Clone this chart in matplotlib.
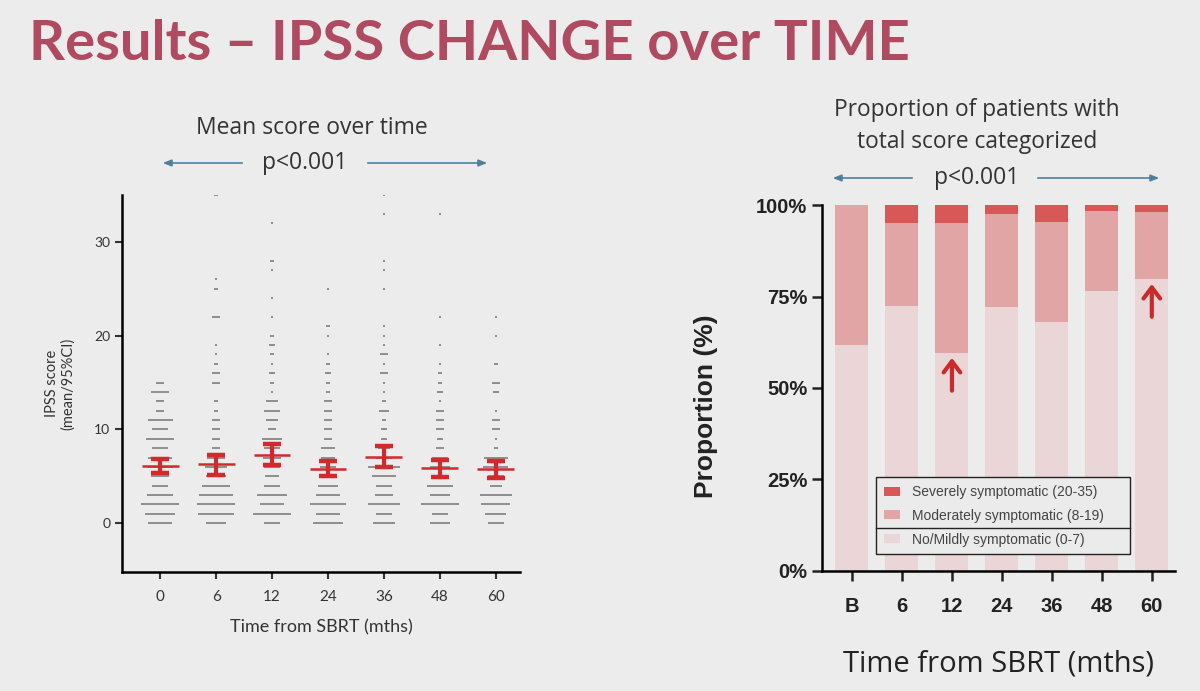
import numpy as np
import matplotlib
matplotlib.use("Agg")
import matplotlib.pyplot as plt

# ---- data ----
groups = ["0", "6", "12", "24", "36", "48", "60"]

# number of patients at each IPSS score (index = score)
counts = {
    "0":  [17, 22, 28, 19, 11, 13, 18, 17, 12, 20, 12, 18, 6, 6, 13, 5],
    "6":  [14, 26, 28, 25, 20, 14, 16, 13, 5, 5, 6, 6, 3, 3, 0, 6, 5, 3, 1, 1, 0, 0, 5, 0, 0, 2, 1,
           0, 0, 0, 0, 0, 0, 0, 0, 2],
    "12": [12, 28, 18, 22, 11, 10, 12, 13, 12, 14, 6, 9, 11, 9, 1, 3, 4, 1, 3, 4, 3, 0, 1, 0, 1, 0, 0,
           1, 2, 0, 0, 0, 1],
    "24": [22, 17, 27, 17, 15, 13, 12, 10, 10, 6, 6, 5, 5, 6, 3, 3, 4, 3, 1, 0, 1, 3, 0, 0, 0, 1],
    "36": [16, 12, 24, 13, 12, 17, 24, 12, 8, 4, 4, 3, 7, 2, 1, 1, 5, 1, 6, 1, 1, 1, 0, 0, 0, 1, 0,
           1, 1, 0, 0, 0, 0, 1, 0, 1],
    "48": [15, 11, 28, 15, 19, 12, 14, 12, 6, 4, 6, 6, 5, 1, 4, 3, 3, 1, 0, 1, 0, 0, 1, 0, 0, 0, 0,
           0, 0, 0, 0, 0, 0, 1],
    "60": [12, 15, 21, 23, 8, 12, 18, 17, 3, 1, 5, 5, 1, 0, 4, 6, 0, 3, 0, 0, 1, 0, 1],
}
mean_score = [6.1, 6.3, 7.3, 5.8, 7.1, 5.9, 5.8]
ci_low = [5.4, 5.1, 6.2, 5.0, 6.0, 4.9, 4.8]
ci_high = [6.9, 7.3, 8.4, 6.6, 8.2, 6.7, 6.6]

bar_labels = ["B", "6", "12", "24", "36", "48", "60"]
mild = [61.7, 72.5, 59.5, 72.0, 68.0, 76.5, 79.7]
moderate = [38.3, 22.7, 35.5, 25.5, 27.3, 22.0, 18.5]
severe = [0.0, 4.8, 5.0, 2.5, 4.7, 1.5, 1.8]
arrow_bars = [2, 6]

# ---- style ----
bg = "#ececec"
txt = "#333333"
title_col = "#b04a60"
dot_col = "#909090"
err_col = "#d22a2a"
p_col = "#4f7f9e"
c_mild, c_mod, c_sev = "#ead6d6", "#e2a5a5", "#d85757"

fig = plt.figure(figsize=(12, 6.91), dpi=100, facecolor=bg)

fig.text(0.024, 0.937, "Results \u2013 IPSS CHANGE over TIME", color=title_col,
         fontsize=40.5, fontweight="bold", family="Lato", va="center", ha="left")

# ---- left: dot plot with mean / 95% CI ----
ax1 = fig.add_axes([0.1017, 0.1722, 0.3316, 0.5456], facecolor=bg)
dx = 0.024
for gi, g in enumerate(groups):
    for score, n in enumerate(counts[g]):
        if n == 0:
            continue
        xs = gi + (np.arange(n) - (n - 1) / 2) * dx
        ax1.scatter(xs, np.full(n, score), s=1.6, marker="s", color=dot_col,
                    linewidths=0, zorder=2)

xg = np.arange(len(groups))
ax1.hlines(mean_score, xg - 0.33, xg + 0.33, color=err_col, lw=1.8, zorder=4)
ax1.vlines(xg, ci_low, ci_high, color=err_col, lw=3, zorder=4)
ax1.hlines(ci_low, xg - 0.16, xg + 0.16, color=err_col, lw=3.2, zorder=4)
ax1.hlines(ci_high, xg - 0.16, xg + 0.16, color=err_col, lw=3.2, zorder=4)

ax1.set_xlim(-0.68, 6.43)
ax1.set_ylim(-5.2, 35)
ax1.set_yticks([0, 10, 20, 30])
ax1.set_xticks(xg)
ax1.set_xticklabels(groups)
for s in ["top", "right"]:
    ax1.spines[s].set_visible(False)
for s in ["left", "bottom"]:
    ax1.spines[s].set_linewidth(1.8)
ax1.tick_params(axis="y", labelsize=10, colors=txt, width=1.5, length=5)
ax1.tick_params(axis="x", labelsize=11, colors=txt, width=1.5, length=5, pad=8)
for lab in ax1.get_xticklabels() + ax1.get_yticklabels():
    lab.set_family("Lato")
ax1.set_ylabel("IPSS score\n(mean/95%CI)", fontsize=10.5, color=txt, family="Lato",
               labelpad=14, linespacing=1.1)
ax1.set_xlabel("Time from SBRT (mths)", fontsize=13, color=txt, family="Lato", labelpad=11)

fig.text(0.26, 0.815, "Mean score over time", fontsize=16.5, color=txt, family="Open Sans",
         ha="center", va="center")

# ---- right: stacked proportions ----
ax2 = fig.add_axes([0.685, 0.1737, 0.294, 0.5296], facecolor=bg)
xb = np.arange(len(bar_labels))
w = 0.66
ax2.bar(xb, mild, w, color=c_mild, label="No/Mildly symptomatic (0-7)", zorder=2)
ax2.bar(xb, moderate, w, bottom=mild, color=c_mod, label="Moderately symptomatic (8-19)", zorder=2)
ax2.bar(xb, severe, w, bottom=np.array(mild) + np.array(moderate), color=c_sev,
        label="Severely symptomatic (20-35)", zorder=2)

for i in arrow_bars:
    ax2.annotate("", xy=(i, mild[i] - 0.5), xytext=(i, mild[i] - 11),
                 arrowprops=dict(arrowstyle="->,head_length=0.8,head_width=0.6",
                                 lw=3, color="#cc2a2a"), zorder=5)

ax2.set_xlim(-0.6, 6.46)
ax2.set_ylim(0, 100)
ax2.set_yticks([0, 25, 50, 75, 100])
ax2.set_yticklabels(["0%", "25%", "50%", "75%", "100%"])
ax2.set_xticks(xb)
ax2.set_xticklabels(bar_labels)
for s in ["top", "right"]:
    ax2.spines[s].set_visible(False)
for s in ["left", "bottom"]:
    ax2.spines[s].set_linewidth(1.8)
ax2.tick_params(axis="both", width=1.8, length=7, colors="#222222")
ax2.tick_params(axis="y", labelsize=14.5)
ax2.tick_params(axis="x", labelsize=14.5, pad=12)
for lab in ax2.get_xticklabels() + ax2.get_yticklabels():
    lab.set_family("Liberation Sans")
    lab.set_fontweight("bold")
ax2.set_ylabel("Proportion (%)", fontsize=19, fontweight="bold", family="Liberation Sans",
               color="#222222")
ax2.yaxis.set_label_coords(-0.295, 0.45)
ax2.set_xlabel("Time from SBRT (mths)", fontsize=21, family="Open Sans",
               color="#222222", labelpad=24)

h, l = ax2.get_legend_handles_labels()
leg = ax2.legend(h[::-1], l[::-1], loc="lower left", bbox_to_anchor=(0.153, 0.046, 0.72, 0.2),
                 mode="expand", borderaxespad=0, frameon=True, fancybox=False,
                 handlelength=1.2, handleheight=0.6, handletextpad=0.85, borderpad=0.55,
                 labelspacing=0.7, prop={"family": "Liberation Sans", "size": 10})
leg.get_frame().set_edgecolor("#222222")
leg.get_frame().set_facecolor("#ebebeb")
leg.get_frame().set_alpha(1)
leg.get_frame().set_linewidth(1)
for t in leg.get_texts():
    t.set_color("#444444")
leg.set_zorder(6)

fig.text(0.814, 0.818, "Proportion of patients with\ntotal score categorized", fontsize=16.4,
         color=txt, family="Open Sans", ha="center", va="center", linespacing=1.45)


# ---- p-value arrows ----
def p_arrow(x0, x1, x2, x3, xt, y):
    style = dict(arrowstyle="-|>,head_length=0.5,head_width=0.2", lw=1.2, color=p_col)
    fig.add_artist(plt.Annotation("", xy=(x0, y), xytext=(x1, y), xycoords="figure fraction",
                                  arrowprops=style))
    fig.add_artist(plt.Annotation("", xy=(x3, y), xytext=(x2, y), xycoords="figure fraction",
                                  arrowprops=style))
    fig.text(xt, y, "p<0.001", fontsize=16.5, color=txt, family="Open Sans", ha="center",
             va="center")


p_arrow(160 / 1200, 245 / 1200, 365 / 1200, 490 / 1200, 305 / 1200, 1 - 163 / 691)
p_arrow(830 / 1200, 915 / 1200, 1035 / 1200, 1162 / 1200, 977 / 1200, 1 - 178 / 691)

# separator line inside the legend box, between 2nd and 3rd entries
fig.canvas.draw()
r = fig.canvas.get_renderer()
fb = leg.get_frame().get_window_extent(r)
t2 = leg.get_texts()[1].get_window_extent(r)
t3 = leg.get_texts()[2].get_window_extent(r)
ysep = (t2.y0 + t3.y1) / 2
inv = fig.transFigure.inverted()
(fx0, fy), (fx1, _) = inv.transform([(fb.x0, ysep), (fb.x1, ysep)])
fig.add_artist(plt.Line2D([fx0, fx1], [fy, fy], color="#222222", lw=1, zorder=10))

fig.savefig("out.png", dpi=100, facecolor=bg)
